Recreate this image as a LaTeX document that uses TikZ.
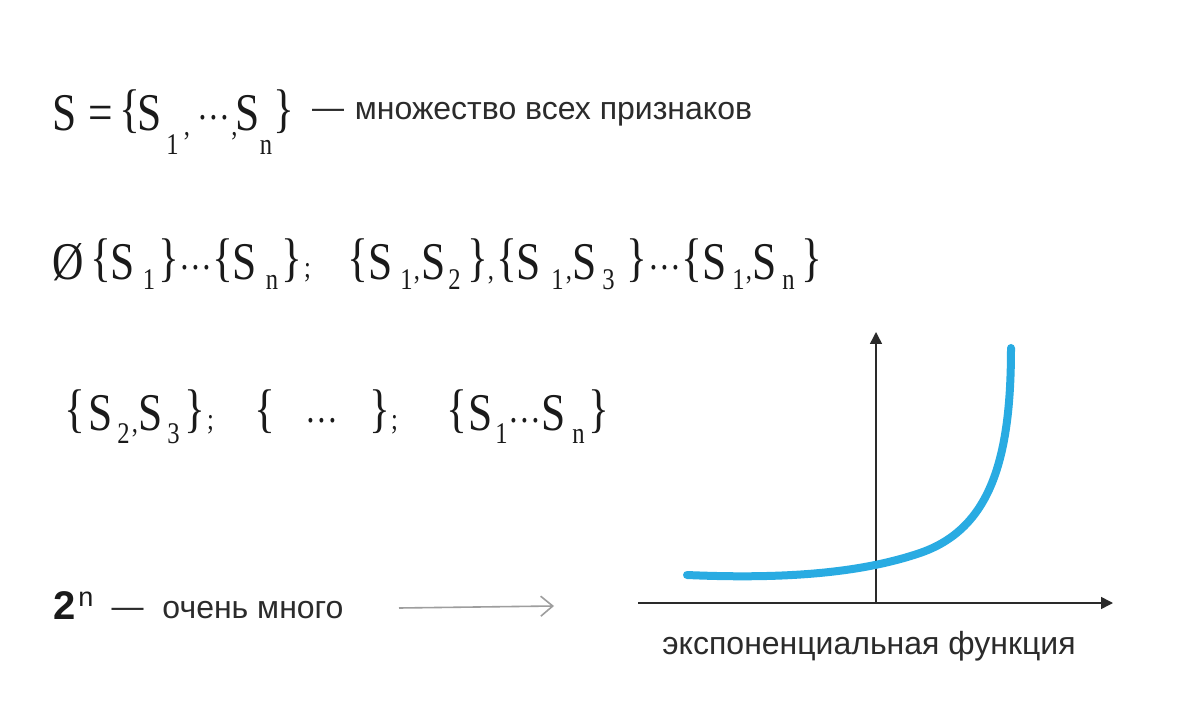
\documentclass[tikz,border=0pt]{standalone}
\usepackage{fontspec}
\setmainfont[FakeStretch=0.82]{Liberation Serif}
\newfontfamily\sansf{Liberation Sans}
\usetikzlibrary{arrows.meta}
\definecolor{ink}{HTML}{1A1A1A}
\definecolor{txt}{HTML}{2B2B2B}
\definecolor{curveblue}{HTML}{29ABE2}
\definecolor{arrowgray}{HTML}{9E9E9E}
\definecolor{axisc}{HTML}{2A2A2A}
\begin{document}
\begin{tikzpicture}[x=1pt,y=-1pt,
  g/.style={anchor=base, inner sep=0pt, outer sep=0pt, text=ink, font=\fontsize{53}{60}\selectfont},
  sb/.style={g, font=\fontsize{30}{36}\selectfont},
  dt/.style={g, font=\fontsize{40}{44}\selectfont},
  lbl/.style={anchor=base, inner sep=0pt, outer sep=0pt, text=txt, font=\sansf\fontsize{32}{36}\selectfont},
  two/.style={anchor=base, inner sep=0pt, outer sep=0pt, text=ink, font=\sansf\bfseries\fontsize{40}{44}\selectfont},
  sup/.style={anchor=base, inner sep=0pt, outer sep=0pt, text=ink, font=\sansf\fontsize{27}{30}\selectfont},
  axis/.style={draw=axisc, line width=1.5pt, -{Triangle[length=12pt,width=12pt]}},
  curvestyle/.style={draw=curveblue, line width=8pt, line cap=round},
  grayarrow/.style={draw=arrowgray, line width=1.6pt, -{Straight Barb[length=12pt,width=20pt,line width=1.6pt]}}
]
\useasboundingbox[fill=white] (0,0) rectangle (1200,727);

% ---- line 1
\node[g] (a1) at (65,131) {S};
\node[g] (a2) at (100.5,131) {=};
\node[g] (a3) at (129.5,127) {\{};
\node[g] (a4) at (150,131) {S};
\node[sb] (a5) at (172.5,155) {1};
\node[sb] (a6) at (187,136) {,};
\node[dt] (a7) at (214,120) {…};
\node[sb] (a8) at (234.5,136) {,};
\node[g] (a9) at (248,131) {S};
\node[sb] (a10) at (266,155) {n};
\node[g] (a11) at (284,127) {\}};
\node[lbl] (a12) at (328,119) {—};
\node[lbl] (a13) at (553.5,120) {множество всех признаков};

% ---- line 2
\node[g] (b1) at (68.5,280) {Ø};
\node[g] (b2) at (101,276) {\{};
\node[g] (b3) at (123,280) {S};
\node[sb] (b4) at (149,290) {1};
\node[g] (b5) at (168.5,276) {\}};
\node[dt] (b6) at (196,270) {…};
\node[g] (b7) at (223,276) {\{};
\node[g] (b8) at (245,280) {S};
\node[sb] (b9) at (272,290) {n};
\node[g] (b10) at (291.5,276) {\}};
\node[sb] (b11) at (307.5,278) {;};
\node[g] (b12) at (358,276) {\{};
\node[g] (b13) at (381,280) {S};
\node[sb] (b14) at (406.5,290) {1};
\node[sb] (b15) at (417,280) {,};
\node[g] (b16) at (434,280) {S};
\node[sb] (b17) at (454.5,290) {2};
\node[g] (b18) at (477.5,276) {\}};
\node[sb] (b19) at (491,280) {,};
\node[g] (b20) at (506.5,276) {\{};
\node[g] (b21) at (529,280) {S};
\node[sb] (b22) at (557.5,290) {1};
\node[sb] (b23) at (569,280) {,};
\node[g] (b24) at (585,280) {S};
\node[sb] (b25) at (608.5,290) {3};
\node[g] (b26) at (636.5,276) {\}};
\node[dt] (b27) at (665,270) {…};
\node[g] (b28) at (692,276) {\{};
\node[g] (b29) at (714.5,280) {S};
\node[sb] (b30) at (738.5,290) {1};
\node[sb] (b31) at (749,280) {,};
\node[g] (b32) at (765,280) {S};
\node[sb] (b33) at (788.5,290) {n};
\node[g] (b34) at (811.5,276) {\}};

% ---- line 3
\node[g] (c1) at (75,426) {\{};
\node[g] (c2) at (101,430) {S};
\node[sb] (c3) at (123.5,443) {2};
\node[sb] (c4) at (135,432) {,};
\node[g] (c5) at (151,430) {S};
\node[sb] (c6) at (173.5,443) {3};
\node[g] (c7) at (195,426) {\}};
\node[sb] (c8) at (210.5,429) {;};
\node[g] (c9) at (265,426) {\{};
\node[dt] (c10) at (322,422) {…};
\node[g] (c11) at (380,426) {\}};
\node[sb] (c12) at (394.5,429) {;};
\node[g] (c13) at (456.5,426) {\{};
\node[g] (c14) at (481,430) {S};
\node[sb] (c15) at (501.5,443) {1};
\node[dt] (c16) at (525,422) {…};
\node[g] (c17) at (554,430) {S};
\node[sb] (c18) at (578.5,443) {n};
\node[g] (c19) at (598.5,426) {\}};

% ---- line 4
\node[two] (d1) at (65,619) {2};
\node[sup] (d2) at (86,606) {n};
\node[lbl] (d3) at (127.5,617) {—};
\node[lbl] (d4) at (253,618) {очень много};
\coordinate (ar1) at (399,608);
\coordinate (ar2) at (554,606);
\draw[grayarrow] (ar1) -- (ar2);

% ---- graph
\coordinate (O) at (876,603);
\coordinate (xl) at (638,603);
\coordinate (xr) at (1113,603);
\coordinate (yt) at (876,332);
\draw[axis] (xl) -- (xr);
\draw[axis] (O) -- (yt);
\coordinate (k0) at (687,575);
\coordinate (k1) at (920,553);
\coordinate (k2) at (1011,348);
\draw[curvestyle] (k0) .. controls (800,580) and (870,570) .. (k1)
                       .. controls (990,529) and (1011,460) .. (k2);
\node[lbl] (e1) at (869,654) {экспоненциальная функция};
\end{tikzpicture}
\end{document}
